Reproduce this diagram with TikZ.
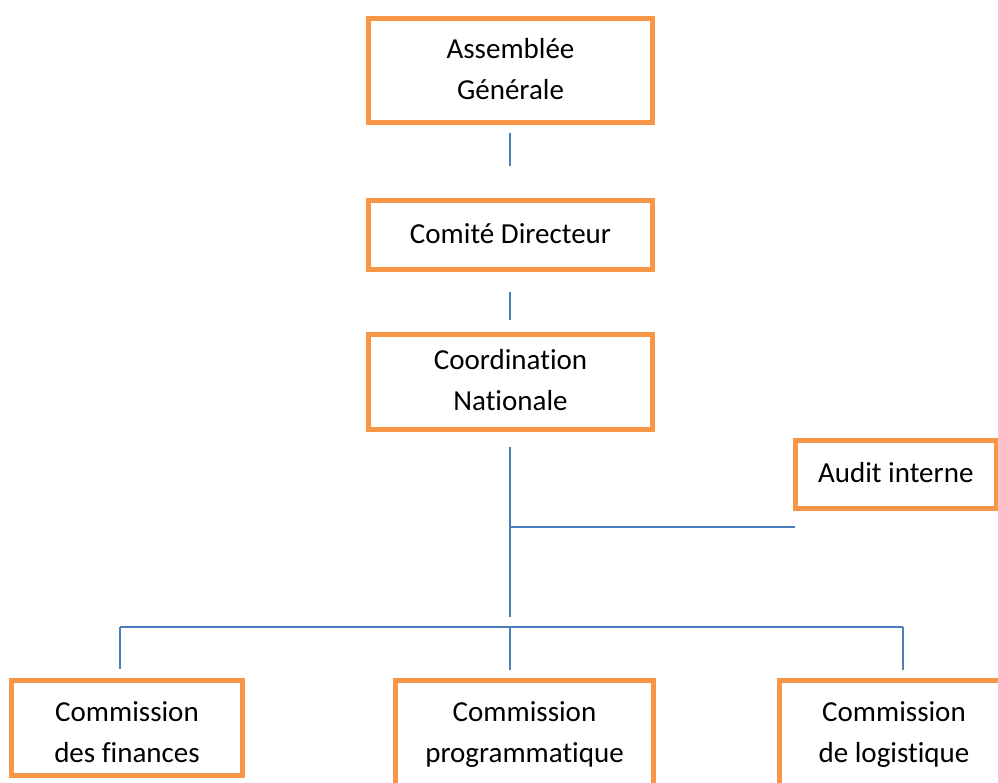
\documentclass[tikz,border=0pt]{standalone}
\usepackage{fontspec}
\setmainfont{Carlito}[Ligatures=NoCommon]
\definecolor{boxorange}{HTML}{F79646}
\definecolor{lineblue}{HTML}{4A7EBB}
\begin{document}
\begin{tikzpicture}[x=1pt,y=-1pt,
  box/.style={draw=boxorange,line width=5pt,inner sep=0pt,align=center,font=\fontsize{29}{41}\selectfont},
  lbl/.style={inner sep=0pt,align=center,font=\fontsize{29}{41}\selectfont},
  conn/.style={draw=lineblue,line width=1.8pt}]
\useasboundingbox (0,0) rectangle (998,782);
\clip (0,0) rectangle (998,782);
% top chain
\node[box,minimum width=284pt,minimum height=104pt] (ag) at (510.5,70.5) {\strut Assemblée\\\strut Générale};
\node[box,minimum width=284pt,minimum height=69pt] (cd) at (510.5,235) {\strut Comité Directeur};
\node[box,minimum width=284pt,minimum height=95pt] (cn) at (510.5,382) {\strut Coordination\\\strut Nationale};
\node[box,minimum width=200.5pt,minimum height=68pt] (ai) at (895.75,474) {\strut Audit interne};
% bottom row
\node[box,minimum width=231pt,minimum height=95pt] (cf) at (127,728) {};
\node[box,minimum width=258pt,minimum height=119.5pt] (cp) at (524.5,740) {};
\node[box,minimum width=229pt,minimum height=119.5pt] (cl) at (894,740) {};
\node[lbl] (cft) at (127,734) {\strut Commission\\\strut des finances};
\node[lbl] (cpt) at (524.5,734) {\strut Commission\\\strut programmatique};
\node[lbl] (clt) at (894,734) {\strut Commission\\\strut de logistique};
% connector end points
\coordinate (a1) at (510,133);
\coordinate (a2) at (510,166);
\coordinate (b1) at (510,292);
\coordinate (b2) at (510,320);
\coordinate (c1) at (510,447);
\coordinate (c2) at (510,617);
\coordinate (cj) at (510,527);
\coordinate (ce) at (795,527);
\coordinate (hl) at (120,627);
\coordinate (hm) at (510,627);
\coordinate (hr) at (903,627);
\coordinate (dl) at (120,669);
\coordinate (dm) at (510,670);
\coordinate (dr) at (903,670);
% connectors
\draw[conn] (a1) -- (a2);
\draw[conn] (b1) -- (b2);
\draw[conn] (c1) -- (c2);
\draw[conn] (cj) -- (ce);
\draw[conn] (hl) -- (hr);
\draw[conn] (hl) -- (dl);
\draw[conn] (hm) -- (dm);
\draw[conn] (hr) -- (dr);
\end{tikzpicture}
\end{document}
